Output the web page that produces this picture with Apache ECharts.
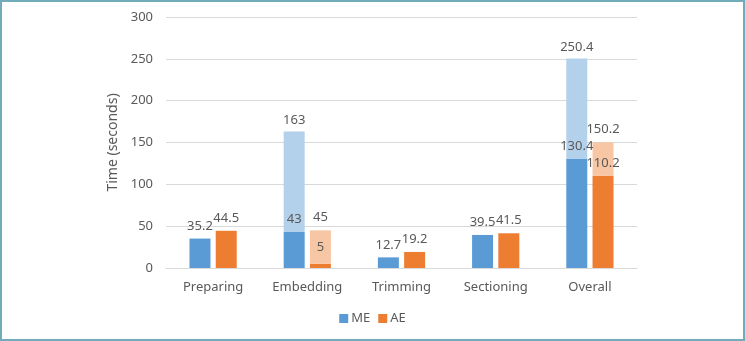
<!DOCTYPE html>
<html>
<head>
<meta charset="utf-8">
<script src="https://cdn.jsdelivr.net/npm/echarts@6/dist/echarts.min.js"></script>
<style>
html,body{margin:0;padding:0;background:#fff;}
#frame{position:absolute;left:0;top:0;width:745px;height:341px;box-sizing:border-box;border:2px solid #72acbb;}
#chart{position:absolute;left:0;top:0;width:745px;height:341px;}
</style>
</head>
<body>
<div id="chart"></div>
<div id="frame"></div>
<script>
const categories = ['Preparing', 'Embedding', 'Trimming', 'Sectioning', 'Overall'];
const meValues = [35.2, 43, 12.7, 39.5, 130.4];
const meTotals = [null, 163, null, null, 250.4];
const aeValues = [44.5, 5, 19.2, 41.5, 110.2];
const aeTotals = [null, 45, null, null, 150.2];
const yTicks = [0, 50, 100, 150, 200, 250, 300];

const txt = '#595959';
const font = 'Noto Sans';
const meDark = '#5b9bd5', meLight = '#b4d1ec';
const aeDark = '#ed7d31', aeLight = '#f7c6a4';

function extra(vals, tots) {
  return tots.map((t, i) => t == null ? null : +(t - vals[i]).toFixed(1));
}
function darkItems(vals, distFor) {
  return vals.map((v, i) => ({ value: v, label: { distance: distFor(i) } }));
}

const chart = echarts.init(document.getElementById('chart'));
chart.setOption({
  animation: false,
  textStyle: { fontFamily: font, color: txt },
  grid: { left: 166, right: 108, top: 17, bottom: 73 },
  legend: {
    data: ['ME', 'AE'],
    bottom: 11, left: 'center',
    itemWidth: 9, itemHeight: 9, itemGap: 8,
    icon: 'rect',
    textStyle: { fontFamily: font, color: txt, fontSize: 13, padding: [0, 0, 0, -2] }
  },
  xAxis: {
    type: 'category', data: categories,
    axisLine: { lineStyle: { color: '#d9d9d9', width: 1 } },
    axisTick: { show: false },
    axisLabel: { color: txt, fontSize: 13, margin: 13, fontFamily: font }
  },
  yAxis: {
    type: 'value', min: yTicks[0], max: yTicks[yTicks.length - 1], interval: 50,
    name: 'Time (seconds)', nameLocation: 'middle', nameGap: 36,
    nameTextStyle: { color: txt, fontSize: 14, fontFamily: font },
    axisLine: { show: false }, axisTick: { show: false },
    axisLabel: { color: txt, fontSize: 13, margin: 13, fontFamily: font },
    splitLine: { lineStyle: { color: '#d9d9d9', width: 1 } }
  },
  series: [
    {
      name: 'ME', type: 'bar', stack: 'me', barWidth: 21, barGap: '25%',
      itemStyle: { color: meDark },
      data: darkItems(meValues, i => 6),
      label: { show: true, position: 'top', color: txt, fontSize: 13, fontFamily: font }
    },
    {
      name: 'MEextra', type: 'bar', stack: 'me', barWidth: 21, barGap: '25%',
      itemStyle: { color: meLight },
      data: extra(meValues, meTotals),
      label: { show: true, position: 'top', distance: 5, color: txt, fontSize: 13, fontFamily: font,
        formatter: p => meTotals[p.dataIndex] }
    },
    {
      name: 'AE', type: 'bar', stack: 'ae', barWidth: 21, barGap: '25%',
      itemStyle: { color: aeDark },
      data: darkItems(aeValues, i => (aeTotals[i] != null && aeTotals[i] - aeValues[i] > 30 && aeValues[i] < 20) ? 10 : 6),
      label: { show: true, position: 'top', color: txt, fontSize: 13, fontFamily: font }
    },
    {
      name: 'AEextra', type: 'bar', stack: 'ae', barWidth: 21, barGap: '25%',
      itemStyle: { color: aeLight },
      data: extra(aeValues, aeTotals),
      label: { show: true, position: 'top', distance: 7, color: txt, fontSize: 13, fontFamily: font,
        formatter: p => aeTotals[p.dataIndex] }
    }
  ]
});
</script>
</body>
</html>
